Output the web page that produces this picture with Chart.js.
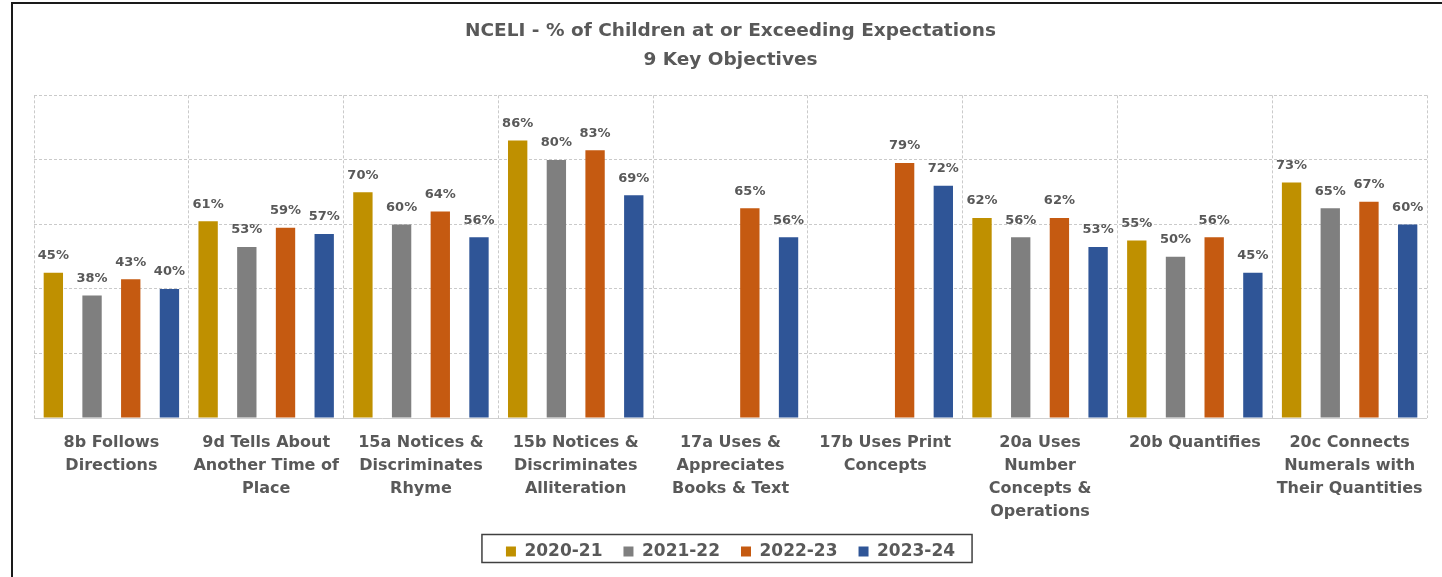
<!DOCTYPE html>
<html>
<head>
<meta charset="utf-8">
<script src="https://cdn.jsdelivr.net/npm/chart.js@4"></script>
<style>
    html, body { margin: 0; padding: 0; background: #fff; overflow: hidden; }
    #wrap { position: relative; width: 1442px; height: 577px; }
    #frame { position: absolute; left: 11px; top: 2px; right: -5px; bottom: -5px;
             border-left: 2px solid #1a1a1a; border-top: 2px solid #1a1a1a; pointer-events: none; }
</style>
</head>
<body>
<div id="wrap">
    <canvas id="chart" width="1442" height="577"></canvas>
    <div id="frame"></div>
</div>
<script>
const categories = [
    ['8b Follows', 'Directions'],
    ['9d Tells About', 'Another Time of', 'Place'],
    ['15a Notices &', 'Discriminates', 'Rhyme'],
    ['15b Notices &', 'Discriminates', 'Alliteration'],
    ['17a Uses &', 'Appreciates', 'Books & Text'],
    ['17b Uses Print', 'Concepts'],
    ['20a Uses', 'Number', 'Concepts &', 'Operations'],
    ['20b Quantifies'],
    ['20c Connects', 'Numerals with', 'Their Quantities'],
];
const seriesNames = ['2020-21', '2021-22', '2022-23', '2023-24'];
const y2020 = [45, 61, 70, 86, null, null, 62, 55, 73];
const y2021 = [38, 53, 60, 80, null, null, 56, 50, 65];
const y2022 = [43, 59, 64, 83, 65, 79, 62, 56, 67];
const y2023 = [40, 57, 56, 69, 56, 72, 53, 45, 60];
const colors = ['#BF9000', '#7F7F7F', '#C55A11', '#2F5597'];

const FONT = "'DejaVu Sans', sans-serif";
const TEXT = '#595959';
const GRID = '#cacaca';

// labels above the bars
const barLabels = {
    id: 'barLabels',
    afterDatasetsDraw(chart) {
        const ctx = chart.ctx;
        ctx.save();
        ctx.font = 'bold 13px ' + FONT;
        ctx.fillStyle = TEXT;
        ctx.textAlign = 'center';
        ctx.textBaseline = 'middle';
        chart.data.datasets.forEach((ds, i) => {
            const meta = chart.getDatasetMeta(i);
            meta.data.forEach((bar, j) => {
                const v = ds.data[j];
                if (v === null || v === undefined) return;
                ctx.fillText(v + '%', bar.x, bar.y - 17);
            });
        });
        ctx.restore();
    }
};

// box round the legend + solid bottom axis line
const legendBox = {
    id: 'legendBox',
    afterDraw(chart) {
        const ctx = chart.ctx;
        const area = chart.chartArea;
        ctx.save();
        ctx.strokeStyle = '#d0d0d0';
        ctx.lineWidth = 1;
        ctx.beginPath();
        ctx.moveTo(area.left, Math.round(area.bottom) + 0.5);
        ctx.lineTo(area.right, Math.round(area.bottom) + 0.5);
        ctx.stroke();

        const boxes = chart.legend.legendHitBoxes;
        if (boxes && boxes.length) {
            const first = boxes[0];
            const last = boxes[boxes.length - 1];
            const cy = first.top + first.height / 2;
            ctx.strokeStyle = '#404040';
            ctx.lineWidth = 1.5;
            ctx.strokeRect(first.left - 24, cy - 17, (last.left + last.width + 17) - (first.left - 24), 28);
        }
        ctx.restore();
    }
};

const datasets = [y2020, y2021, y2022, y2023].map((d, i) => ({
    label: seriesNames[i],
    data: d,
    backgroundColor: colors[i],
    borderWidth: 0,
    categoryPercentage: 1.0,
    barPercentage: 0.5,
}));

new Chart(document.getElementById('chart'), {
    type: 'bar',
    data: { labels: categories, datasets: datasets },
    options: {
        responsive: false,
        animation: false,
        devicePixelRatio: 1,
        layout: { padding: { left: 34, right: 15, top: 0, bottom: 7 } },
        plugins: {
            title: {
                display: true,
                text: ['NCELI - % of Children at or Exceeding Expectations', '9 Key Objectives'],
                color: TEXT,
                font: { family: FONT, size: 18.5, weight: 'bold', lineHeight: 1.55 },
                padding: { top: 17, bottom: 21 },
            },
            legend: {
                position: 'bottom',
                labels: {
                    color: TEXT,
                    font: { family: FONT, size: 17, weight: 'bold' },
                    boxWidth: 10,
                    boxHeight: 10,
                    padding: 21,
                },
            },
            tooltip: { enabled: false },
        },
        scales: {
            x: {
                grid: { color: GRID, drawTicks: false, offset: true },
                border: { display: false, dash: [3, 2] },
                ticks: {
                    color: TEXT,
                    font: { family: FONT, size: 16, weight: 'bold', lineHeight: 1.44 },
                    padding: 13,
                    autoSkip: false,
                    maxRotation: 0,
                    minRotation: 0,
                },
                afterFit(s) { s.height = 104; },
            },
            y: {
                min: 0,
                max: 100,
                ticks: { display: false, stepSize: 20 },
                grid: { color: GRID, drawTicks: false },
                border: { display: false, dash: [3, 2] },
                afterFit(s) { s.width = 0; },
            },
        },
    },
    plugins: [barLabels, legendBox],
});
</script>
</body>
</html>
